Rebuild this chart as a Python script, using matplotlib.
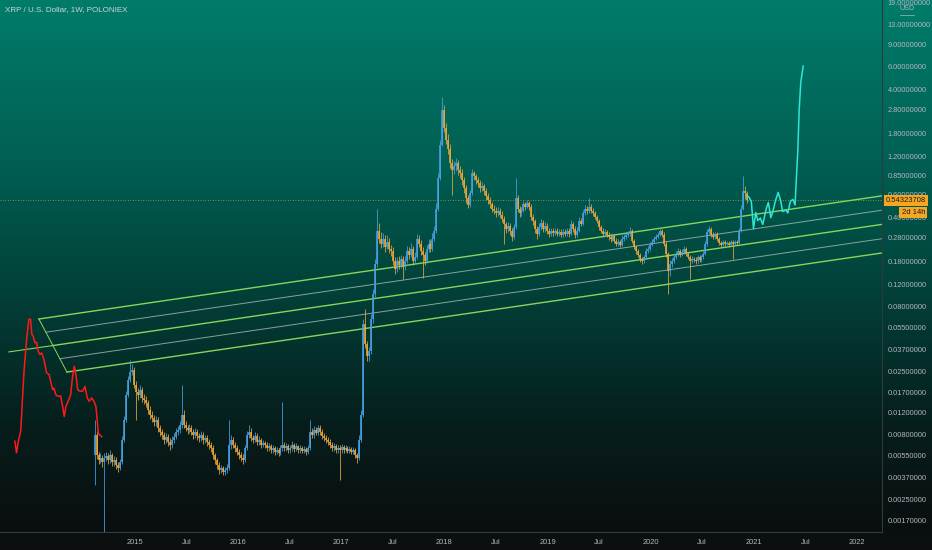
import numpy as np
import pandas as pd
import matplotlib
matplotlib.use("Agg")
import matplotlib.pyplot as plt
import matplotlib.transforms as mtransforms
from matplotlib.colors import LinearSegmentedColormap
from matplotlib.lines import Line2D

plt.rcParams['font.family'] = ['Liberation Sans', 'DejaVu Sans']

title = 'XRP / U.S. Dollar, 1W, POLONIEX'

# weekly candles, XRP/USD Poloniex
first_week = '2014-08-11'
first_open = 0.00552
closes = [
    0.00794, 0.00552, 0.00504, 0.00523, 0.00486, 0.00523, 0.00542, 0.00504, 0.00552, 0.00486,
    0.00504, 0.00461, 0.00437, 0.00486, 0.00725, 0.0104, 0.0164, 0.0215, 0.0249, 0.0258,
    0.0197, 0.0174, 0.0164, 0.0180, 0.0156, 0.0150, 0.0142, 0.0125, 0.0114, 0.0108,
    0.0100, 0.0104, 0.00901, 0.00838, 0.00794, 0.00725, 0.00765, 0.00699, 0.00662, 0.00725,
    0.00765, 0.00838, 0.00869, 0.00952, 0.0114, 0.00952, 0.00901, 0.00869, 0.00901, 0.00838,
    0.00794, 0.00838, 0.00780, 0.00752, 0.00794, 0.00725, 0.00752, 0.00699, 0.00662, 0.00627,
    0.00552, 0.00504, 0.00461, 0.00421, 0.00437, 0.00406, 0.00421, 0.00437, 0.00662, 0.00725,
    0.00662, 0.00627, 0.00583, 0.00552, 0.00523, 0.00504, 0.00627, 0.00794, 0.00838, 0.00752,
    0.00725, 0.00780, 0.00699, 0.00725, 0.00662, 0.00686, 0.00662, 0.00627, 0.00650, 0.00605,
    0.00627, 0.00583, 0.00605, 0.00572, 0.00627, 0.00662, 0.00627, 0.00650, 0.00605, 0.00627,
    0.00662, 0.00616, 0.00650, 0.00605, 0.00627, 0.00594, 0.00616, 0.00583, 0.00627, 0.00838,
    0.00794, 0.00869, 0.00822, 0.00901, 0.00838, 0.00780, 0.00752, 0.00725, 0.00699, 0.00662,
    0.00627, 0.00650, 0.00605, 0.00627, 0.00605, 0.00638, 0.00605, 0.00627, 0.00594, 0.00616,
    0.00583, 0.00605, 0.00552, 0.00523, 0.00725, 0.0114, 0.0583, 0.0406, 0.0327, 0.0358,
    0.0639, 0.1005, 0.173, 0.314, 0.272, 0.249, 0.272, 0.235, 0.258, 0.227,
    0.219, 0.182, 0.158, 0.182, 0.170, 0.189, 0.164, 0.182, 0.219, 0.204,
    0.227, 0.182, 0.196, 0.272, 0.249, 0.219, 0.204, 0.182, 0.227, 0.249,
    0.227, 0.272, 0.314, 0.469, 0.808, 1.48, 2.78, 2.00, 1.62, 1.36,
    1.06, 0.934, 1.00, 1.06, 0.934, 0.886, 0.779, 0.674, 0.563, 0.496,
    0.616, 0.886, 0.838, 0.779, 0.739, 0.674, 0.699, 0.639, 0.584, 0.543,
    0.505, 0.469, 0.452, 0.429, 0.452, 0.421, 0.391, 0.352, 0.326, 0.345,
    0.314, 0.282, 0.338, 0.563, 0.469, 0.429, 0.452, 0.505, 0.486, 0.514,
    0.486, 0.405, 0.377, 0.326, 0.298, 0.338, 0.364, 0.326, 0.345, 0.314,
    0.298, 0.314, 0.303, 0.314, 0.298, 0.309, 0.293, 0.309, 0.298, 0.314,
    0.298, 0.352, 0.326, 0.293, 0.314, 0.377, 0.358, 0.429, 0.469, 0.445,
    0.486, 0.452, 0.429, 0.405, 0.377, 0.338, 0.314, 0.298, 0.309, 0.293,
    0.282, 0.272, 0.287, 0.262, 0.249, 0.258, 0.245, 0.272, 0.282, 0.293,
    0.298, 0.314, 0.262, 0.235, 0.219, 0.204, 0.189, 0.182, 0.196, 0.219,
    0.227, 0.245, 0.258, 0.272, 0.282, 0.293, 0.314, 0.293, 0.249, 0.208,
    0.152, 0.173, 0.182, 0.196, 0.208, 0.219, 0.204, 0.216, 0.227, 0.208,
    0.196, 0.182, 0.189, 0.186, 0.182, 0.196, 0.186, 0.196, 0.208, 0.249,
    0.309, 0.326, 0.293, 0.282, 0.298, 0.272, 0.253, 0.245, 0.258, 0.249,
    0.253, 0.245, 0.258, 0.249, 0.258, 0.253, 0.314, 0.469, 0.639, 0.616,
    0.54323708,
]
highs = [
    0.0104, 0.0085, 0.0059, 0.0057, 0.0055, 0.0058, 0.0059, 0.0058, 0.0061, 0.0058,
    0.00545, 0.00535, 0.0049, 0.0052, 0.0078, 0.0112, 0.0175, 0.0232, 0.0309, 0.0285,
    0.0270, 0.0210, 0.0186, 0.0196, 0.0190, 0.0166, 0.0160, 0.0150, 0.0133, 0.0122,
    0.0115, 0.0112, 0.0110, 0.0096, 0.0089, 0.0084, 0.0082, 0.0081, 0.0075, 0.0078,
    0.0083, 0.0090, 0.0093, 0.0102, 0.0197, 0.0124, 0.0102, 0.0096, 0.0097, 0.0095,
    0.0088, 0.0091, 0.0089, 0.0083, 0.0086, 0.0084, 0.0080, 0.0079, 0.0074, 0.0070,
    0.0066, 0.0058, 0.0053, 0.00485, 0.00465, 0.00455, 0.0045, 0.0047, 0.0104, 0.0080,
    0.0077, 0.0070, 0.0066, 0.0062, 0.0059, 0.0056, 0.0067, 0.0085, 0.0095, 0.0090,
    0.0080, 0.0084, 0.0083, 0.0078, 0.0076, 0.0073, 0.0072, 0.0070, 0.0069, 0.0068,
    0.0067, 0.0065, 0.0064, 0.0063, 0.0066, 0.0145, 0.0070, 0.0069, 0.0068, 0.0066,
    0.0071, 0.0069, 0.0069, 0.0067, 0.0066, 0.0065, 0.0065, 0.0064, 0.0066, 0.0104,
    0.0090, 0.0093, 0.0092, 0.0096, 0.0095, 0.0088, 0.0082, 0.0080, 0.0077, 0.0074,
    0.0070, 0.0069, 0.0068, 0.0066, 0.0066, 0.0068, 0.0067, 0.0066, 0.0065, 0.0065,
    0.0064, 0.0064, 0.0063, 0.0058, 0.0080, 0.0125, 0.0639, 0.0766, 0.0430, 0.0390,
    0.0700, 0.110, 0.190, 0.469, 0.360, 0.310, 0.300, 0.290, 0.290, 0.275,
    0.245, 0.235, 0.195, 0.195, 0.200, 0.205, 0.200, 0.198, 0.240, 0.235,
    0.250, 0.240, 0.215, 0.298, 0.290, 0.265, 0.235, 0.215, 0.245, 0.270,
    0.265, 0.300, 0.340, 0.514, 0.886, 1.62, 3.50, 3.00, 2.20, 1.78,
    1.50, 1.15, 1.10, 1.16, 1.12, 1.00, 0.950, 0.830, 0.720, 0.600,
    0.660, 0.960, 0.930, 0.880, 0.830, 0.780, 0.750, 0.730, 0.680, 0.620,
    0.580, 0.530, 0.500, 0.480, 0.480, 0.475, 0.445, 0.410, 0.370, 0.365,
    0.360, 0.330, 0.355, 0.808, 0.600, 0.495, 0.480, 0.540, 0.530, 0.550,
    0.540, 0.505, 0.425, 0.390, 0.345, 0.360, 0.385, 0.380, 0.365, 0.360,
    0.330, 0.330, 0.330, 0.330, 0.330, 0.325, 0.325, 0.325, 0.322, 0.332,
    0.330, 0.380, 0.370, 0.340, 0.335, 0.400, 0.395, 0.455, 0.500, 0.490,
    0.563, 0.505, 0.470, 0.445, 0.420, 0.390, 0.350, 0.330, 0.325, 0.320,
    0.305, 0.295, 0.300, 0.298, 0.275, 0.270, 0.268, 0.290, 0.298, 0.308,
    0.315, 0.338, 0.325, 0.272, 0.245, 0.228, 0.212, 0.196, 0.205, 0.230,
    0.240, 0.258, 0.272, 0.285, 0.296, 0.308, 0.335, 0.325, 0.305, 0.260,
    0.215, 0.185, 0.192, 0.205, 0.218, 0.230, 0.228, 0.225, 0.240, 0.235,
    0.215, 0.205, 0.198, 0.196, 0.196, 0.205, 0.203, 0.205, 0.218, 0.262,
    0.325, 0.345, 0.335, 0.305, 0.310, 0.305, 0.280, 0.262, 0.268, 0.265,
    0.262, 0.260, 0.268, 0.265, 0.268, 0.266, 0.330, 0.500, 0.850, 0.700,
    0.640,
]
lows = [
    0.00321, 0.00515, 0.00470, 0.00480, 0.00450, 0.00105, 0.00495, 0.00470, 0.00480, 0.00455,
    0.00455, 0.00430, 0.00405, 0.00420, 0.00470, 0.0070, 0.0100, 0.0158, 0.0205, 0.0236,
    0.0185, 0.0104, 0.0150, 0.0155, 0.0145, 0.0138, 0.0132, 0.0116, 0.0106, 0.0100,
    0.0093, 0.0094, 0.0084, 0.0078, 0.0074, 0.0068, 0.0069, 0.0065, 0.0061, 0.0063,
    0.0069, 0.0074, 0.0080, 0.0083, 0.0090, 0.0090, 0.0085, 0.0081, 0.0082, 0.0079,
    0.0074, 0.0076, 0.0073, 0.0070, 0.0072, 0.0068, 0.0069, 0.0065, 0.0062, 0.0059,
    0.0052, 0.00475, 0.00435, 0.00395, 0.0040, 0.00384, 0.0039, 0.0040, 0.0042, 0.0062,
    0.0063, 0.0059, 0.00555, 0.0052, 0.00495, 0.0047, 0.0049, 0.0061, 0.0076, 0.0071,
    0.0069, 0.0070, 0.0066, 0.0067, 0.0063, 0.0064, 0.0063, 0.0060, 0.0060, 0.00575,
    0.0058, 0.00555, 0.0056, 0.00545, 0.00555, 0.0060, 0.0060, 0.0060, 0.00575, 0.0058,
    0.0060, 0.0059, 0.00595, 0.00575, 0.0058, 0.0057, 0.0057, 0.00555, 0.0056, 0.0061,
    0.0076, 0.0076, 0.0079, 0.0079, 0.0080, 0.0074, 0.0072, 0.0069, 0.0067, 0.0063,
    0.00595, 0.0060, 0.00575, 0.0058, 0.00351, 0.0058, 0.00575, 0.00585, 0.0057, 0.0057,
    0.0056, 0.0056, 0.0053, 0.0048, 0.0051, 0.0070, 0.0110, 0.0380, 0.0300, 0.0300,
    0.0340, 0.0600, 0.0950, 0.165, 0.250, 0.230, 0.235, 0.215, 0.225, 0.210,
    0.200, 0.170, 0.145, 0.150, 0.158, 0.160, 0.132, 0.155, 0.175, 0.190,
    0.195, 0.170, 0.172, 0.190, 0.235, 0.205, 0.135, 0.170, 0.175, 0.215,
    0.215, 0.220, 0.260, 0.300, 0.450, 0.780, 1.45, 1.85, 1.50, 1.25,
    0.970, 0.600, 0.870, 0.930, 0.860, 0.820, 0.720, 0.620, 0.520, 0.470,
    0.480, 0.600, 0.780, 0.730, 0.690, 0.630, 0.640, 0.600, 0.550, 0.510,
    0.470, 0.440, 0.425, 0.400, 0.410, 0.395, 0.365, 0.249, 0.300, 0.310,
    0.290, 0.262, 0.270, 0.325, 0.440, 0.405, 0.410, 0.440, 0.460, 0.470,
    0.460, 0.380, 0.350, 0.300, 0.270, 0.285, 0.320, 0.305, 0.310, 0.295,
    0.282, 0.285, 0.288, 0.290, 0.285, 0.285, 0.280, 0.282, 0.285, 0.287,
    0.283, 0.290, 0.310, 0.278, 0.282, 0.305, 0.340, 0.350, 0.415, 0.425,
    0.430, 0.430, 0.410, 0.385, 0.360, 0.320, 0.300, 0.285, 0.285, 0.280,
    0.268, 0.258, 0.262, 0.250, 0.238, 0.240, 0.235, 0.238, 0.262, 0.272,
    0.282, 0.288, 0.250, 0.225, 0.208, 0.195, 0.180, 0.172, 0.175, 0.190,
    0.212, 0.220, 0.238, 0.250, 0.265, 0.275, 0.285, 0.280, 0.238, 0.195,
    0.100, 0.140, 0.165, 0.175, 0.188, 0.200, 0.195, 0.198, 0.208, 0.200,
    0.188, 0.132, 0.175, 0.178, 0.174, 0.176, 0.178, 0.180, 0.190, 0.203,
    0.240, 0.295, 0.280, 0.270, 0.272, 0.262, 0.243, 0.236, 0.238, 0.240,
    0.242, 0.236, 0.238, 0.189, 0.242, 0.245, 0.248, 0.305, 0.455, 0.560,
    0.520,
]

# red fractal line drawn before the candles (decimal years)
red_years = [2013.835, 2013.851, 2013.867, 2013.883, 2013.893, 2013.910, 2013.925, 2013.949,
             2013.971, 2013.987, 2014.000, 2014.013, 2014.029, 2014.046, 2014.061, 2014.078,
             2014.094, 2014.117, 2014.143, 2014.168, 2014.182, 2014.201, 2014.214, 2014.233,
             2014.255, 2014.279, 2014.298, 2014.314, 2014.330, 2014.352, 2014.376, 2014.395,
             2014.411, 2014.427, 2014.444, 2014.466, 2014.492, 2014.515, 2014.537, 2014.556,
             2014.580, 2014.602, 2014.621, 2014.634, 2014.644, 2014.660, 2014.677]
red_prices = [0.00712, 0.00577, 0.00700, 0.00794, 0.00869, 0.0159, 0.0258, 0.0444,
              0.0639, 0.0639, 0.0486, 0.0471, 0.0418, 0.0422, 0.0360, 0.0339,
              0.0349, 0.0309, 0.0243, 0.0236, 0.0209, 0.0180, 0.0185, 0.0164,
              0.0159, 0.0161, 0.0133, 0.0111, 0.0133, 0.0146, 0.0164, 0.0229,
              0.0274, 0.0236, 0.0180, 0.0175, 0.0175, 0.0191, 0.0155, 0.0146,
              0.0155, 0.0146, 0.0133, 0.0104, 0.00818, 0.00794, 0.00770]

# cyan projection after the last candle
cyan_years = [2020.927, 2020.951, 2020.976, 2020.997, 2021.019, 2021.039, 2021.063, 2021.087,
              2021.121, 2021.141, 2021.165, 2021.184, 2021.214, 2021.236, 2021.262, 2021.279,
              2021.311, 2021.330, 2021.354, 2021.379, 2021.400, 2021.413, 2021.427, 2021.440,
              2021.456, 2021.479]
cyan_prices = [0.594, 0.578, 0.533, 0.326, 0.437, 0.377, 0.395, 0.352,
               0.469, 0.523, 0.398, 0.445, 0.553, 0.627, 0.533, 0.445,
               0.456, 0.433, 0.533, 0.553, 0.500, 0.808, 1.35, 2.78,
               4.60, 6.10]

# pitchfork / channel lines
chan_start_years = [2014.068, 2014.136, 2014.204, 2014.272, 2014.340]
chan_start_prices = [0.0642, 0.0506, 0.0398, 0.0314, 0.0247]
chan_end_year = 2022.5
chan_end_prices = [0.632, 0.488, 0.378, 0.292, 0.226]
pivot_year = 2013.777
pivot_price = 0.0355

last_price = 0.54323708
countdown = '2d 14h'

price_ticks = [19, 13, 9, 6, 4, 2.8, 1.8, 1.2, 0.85, 0.6, 0.4, 0.28, 0.18, 0.12, 0.08,
               0.055, 0.037, 0.025, 0.017, 0.012, 0.008, 0.0055, 0.0037, 0.0025, 0.0017]
year_ticks = [2015, 2015.5, 2016, 2016.5, 2017, 2017.5, 2018, 2018.5, 2019, 2019.5,
              2020, 2020.5, 2021, 2021.5, 2022]
year_labels = ['2015', 'Jul', '2016', 'Jul', '2017', 'Jul', '2018', 'Jul', '2019', 'Jul',
               '2020', 'Jul', '2021', 'Jul', '2022']

UP = '#4aa3e6'
DOWN = '#f2a83a'
GREEN = '#86d65c'
GREY = '#a9bcb8'
TXT = '#b2b5be'

W, H = 932, 550
fig = plt.figure(figsize=(W / 100, H / 100), dpi=100)
fig.patch.set_facecolor('#0c0f10')

# background gradient (teal top -> black bottom)
cmap = LinearSegmentedColormap.from_list('tv', [
    (0.0, (10 / 255, 14 / 255, 15 / 255)),
    (0.2, (6 / 255, 30 / 255, 28 / 255)),
    (0.45, (2 / 255, 64 / 255, 56 / 255)),
    (0.7, (0, 96 / 255, 83 / 255)),
    (1.0, (0, 124 / 255, 107 / 255)),
])
bg = fig.add_axes([0, 18 / H, 1, 532 / H], zorder=-5)
bg.imshow(np.linspace(1, 0, 256).reshape(-1, 1), aspect='auto', cmap=cmap,
          extent=[0, 1, 0, 1])
bg.axis('off')

ax = fig.add_axes([0, 18 / H, 882 / W, 532 / H])
ax.set_facecolor('none')
ax.set_yscale('log')
ax.set_xlim(2013.691, 2022.243)
ax.set_ylim(0.001387, 20.03)

# channel lines
for k in range(len(chan_start_years)):
    if k % 2 == 0:
        ax.plot([chan_start_years[k], chan_end_year], [chan_start_prices[k], chan_end_prices[k]],
                color=GREEN, lw=1.0, zorder=2)
    else:
        ax.plot([chan_start_years[k], chan_end_year], [chan_start_prices[k], chan_end_prices[k]],
                color=GREY, lw=0.7, alpha=0.8, zorder=2)
ax.plot([chan_start_years[0], chan_start_years[-1]], [chan_start_prices[0], chan_start_prices[-1]],
        color=GREEN, lw=0.7, zorder=2)
ax.plot([pivot_year, chan_start_years[2]], [pivot_price, chan_start_prices[2]],
        color=GREEN, lw=0.8, zorder=2)

# candles
weeks = pd.date_range(first_week, periods=len(closes), freq='7D')
xw = np.asarray(weeks.year + (weeks.dayofyear - 1) / 365.25, dtype=float)
c = np.array(closes)
o = np.r_[first_open, c[:-1]]
hi = np.array(highs)
lo = np.array(lows)
up = c >= o
for m, col in ((up, UP), (~up, DOWN)):
    ax.vlines(xw[m], lo[m], hi[m], color=col, lw=0.55, zorder=3)
    ax.vlines(xw[m], np.minimum(o, c)[m], np.maximum(o, c)[m], color=col, lw=1.15, zorder=4)

ax.plot(red_years, red_prices, color='#ff1a1a', lw=1.1, zorder=5)
ax.plot(cyan_years, cyan_prices, color='#2ee6d6', lw=1.1, zorder=5)

ax.axhline(last_price, color='#f0a030', lw=0.6, ls=(0, (1, 2)), alpha=0.85, zorder=1)

# axes styling
for s in ('top', 'left'):
    ax.spines[s].set_visible(False)
ax.spines['right'].set_color('#2f3b3a')
ax.spines['bottom'].set_color('#363a45')
ax.spines['right'].set_linewidth(0.8)
ax.spines['bottom'].set_linewidth(0.8)

ax.yaxis.tick_right()
ax.minorticks_off()
ax.set_yticks(price_ticks)
ax.set_yticklabels([f'{t:.8f}' for t in price_ticks])
ax.set_xticks(year_ticks)
ax.set_xticklabels(year_labels)
ax.tick_params(axis='y', length=0, pad=4, labelsize=5.3, labelcolor=TXT)
ax.tick_params(axis='x', length=0, pad=5, labelsize=5.4, labelcolor=TXT)

trans = mtransforms.blended_transform_factory(ax.transAxes, ax.transData)
ax.annotate(f'{last_price:.8f}', xy=(1, last_price), xycoords=trans,
            xytext=(4, 0), textcoords='offset pixels', ha='left', va='center',
            fontsize=5.5, color='#1a1a1a', annotation_clip=False, zorder=10,
            bbox=dict(boxstyle='square,pad=0.3', fc='#f5a623', ec='none'))
ax.annotate(countdown, xy=(1, last_price), xycoords=trans,
            xytext=(43, -12), textcoords='offset pixels', ha='right', va='center',
            fontsize=5.5, color='#1a1a1a', annotation_clip=False, zorder=10,
            bbox=dict(boxstyle='square,pad=0.3', fc='#f5a623', ec='none'))

fig.text(5 / W, 1 - 10 / H, title, ha='left', va='center', fontsize=5.8, color='#d1d4dc')
fig.text(907 / W, 1 - 9 / H, 'USD', ha='center', va='center', fontsize=5.2, color=TXT)
fig.add_artist(Line2D([900 / W, 914 / W], [1 - 15 / H, 1 - 15 / H], color=TXT, lw=0.5))

fig.savefig('out.png', dpi=100, facecolor=fig.get_facecolor())
